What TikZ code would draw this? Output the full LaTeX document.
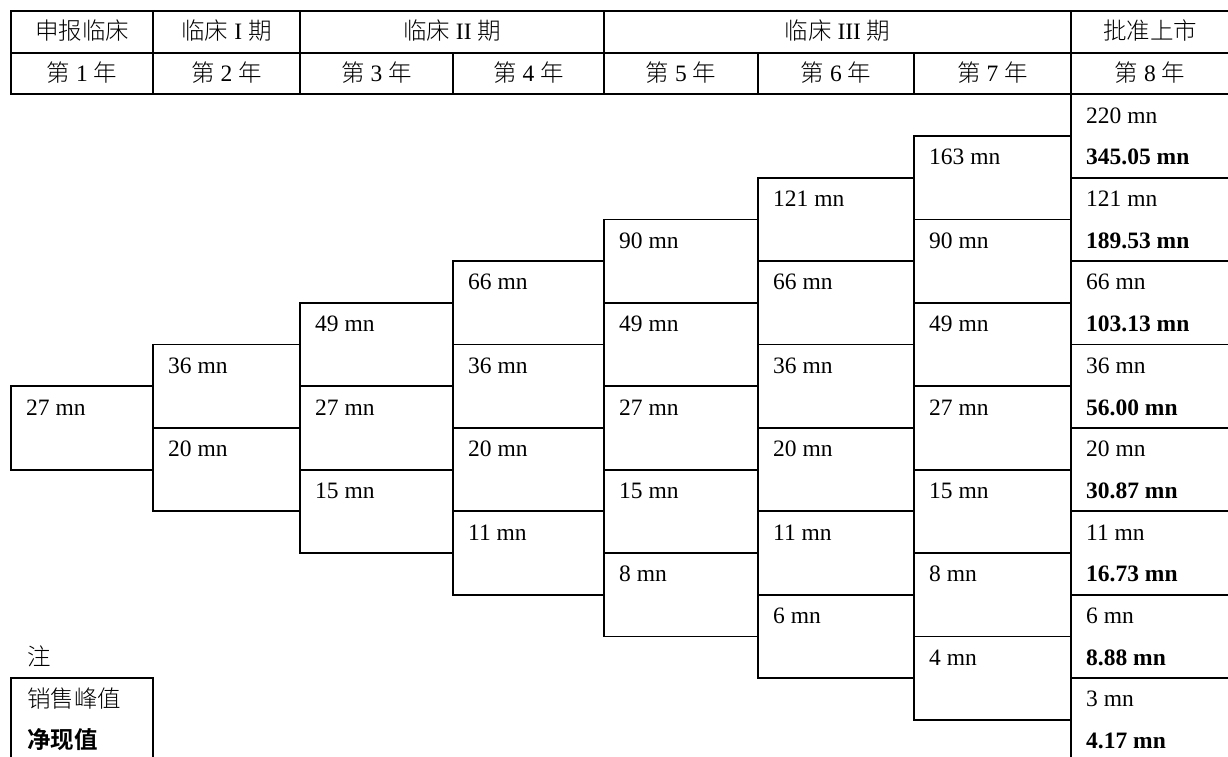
\documentclass[tikz,border=0pt]{standalone}
\usepackage{fontspec}
\setmainfont{Liberation Serif}
\newfontfamily\cjk{Noto Sans CJK SC Light}[BoldFont={Noto Sans CJK SC Bold}]
\def\colx{{11,153,300,453,604,758,914,1071,1229}}
\newcommand\stcol[2]{%
  \pgfmathsetmacro\xl{\colx[#1]}%
  \pgfmathsetmacro\xr{\colx[#1+1]}%
  \foreach \val [count=\j from 0] in {#2} {%
    \pgfmathsetmacro\yt{94.3+41.7*(7-#1+2*\j)}%
    \draw[box] (\xl,\yt) rectangle (\xr,\yt+83.4);
    \node[lbl] (v#1-\j) at (\xl+15,\yt+28.85) {\val{} mn};
  }%
}
\begin{document}
\begin{tikzpicture}[x=1pt,y=-1pt,
  box/.style={draw=black,line width=1.8pt},
  lbl/.style={anchor=base west,inner sep=0pt,font=\fontsize{23.5}{28}\selectfont},
  hdr/.style={anchor=base,inner sep=0pt,font=\fontsize{23.5}{28}\selectfont}]
\useasboundingbox (0,0) rectangle (1228,756);
% header table
\draw[box] (11,10.9) rectangle (1229,94.3);
\draw[box] (11,52.6) -- (1229,52.6);
\foreach \x in {153,300,604,1071} \draw[box] (\x,10.9) -- (\x,94.3);
\foreach \x in {453,758,914} \draw[box] (\x,52.6) -- (\x,94.3);
\node[hdr] (h1) at (82,39.75) {\cjk 申报临床};
\node[hdr] (h2) at (226.5,39.75) {{\cjk 临床} I {\cjk 期}};
\node[hdr] (h3) at (452,39.75) {{\cjk 临床} II {\cjk 期}};
\node[hdr] (h4) at (837.5,39.75) {{\cjk 临床} III {\cjk 期}};
\node[hdr] (h5) at (1150,39.75) {\cjk 批准上市};
\foreach \x/\n in {82/1,226.5/2,376.5/3,528.5/4,681/5,836/6,992.5/7,1150/8}
  \node[hdr] (y\n) at (\x,81.45) {{\cjk 第} \n{} {\cjk 年}};
% staircase
\stcol{0}{27}
\stcol{1}{36,20}
\stcol{2}{49,27,15}
\stcol{3}{66,36,20,11}
\stcol{4}{90,49,27,15,8}
\stcol{5}{121,66,36,20,11,6}
\stcol{6}{163,90,49,27,15,8,4}
% last column
\foreach \pa/\pb [count=\j from 0] in {220/345.05,121/189.53,66/103.13,36/56.00,20/30.87,11/16.73,6/8.88,3/4.17} {
  \pgfmathsetmacro\yt{94.3+83.4*\j}
  \draw[box] (1071,\yt) rectangle (1229,\yt+83.4);
  \node[lbl] (pa\j) at (1086,\yt+28.85) {\pa{} mn};
  \node[lbl] (pb\j) at (1086,\yt+70.55) {\textbf{\pb{} mn}};
}
% legend
\node[lbl] (note) at (27,665.25) {\cjk 注};
\draw[box] (11,678.1) rectangle (153,761.5);
\node[lbl] (peak) at (27,707) {\cjk 销售峰值};
\node[lbl] (npv) at (27,748.6) {\cjk\bfseries 净现值};
\end{tikzpicture}
\end{document}
